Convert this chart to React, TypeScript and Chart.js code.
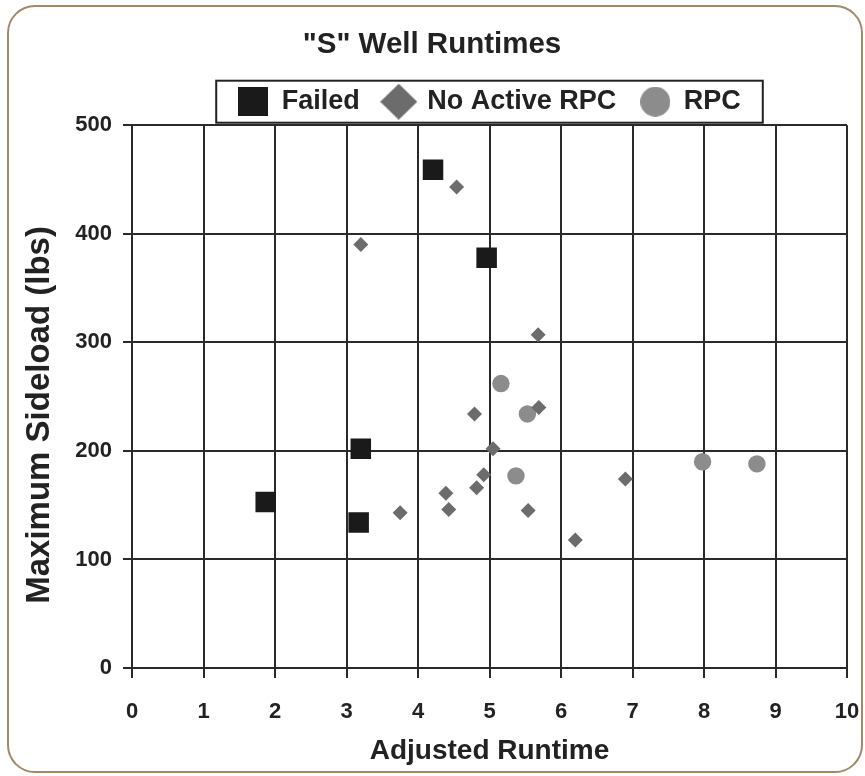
import { useEffect, useRef } from 'react';
import { Chart, registerables } from 'chart.js';

Chart.register(...registerables);

const chartTitle = '"S" Well Runtimes';
const xAxisTitle = 'Adjusted Runtime';
const yAxisTitle = 'Maximum Sideload (lbs)    ';
const seriesNames = ['Failed', 'No Active RPC', 'RPC'];

const failedRuntime = [1.87, 3.17, 3.2, 4.21, 4.96];
const failedSideload = [153, 134, 202, 459, 378];

const noRpcRuntime = [4.54, 3.2, 5.68, 4.79, 5.69, 5.05, 4.92, 4.82, 4.39, 4.43, 3.75, 5.54, 6.2, 6.9];
const noRpcSideload = [443, 390, 307, 234, 240, 202, 178, 166, 161, 146, 143, 145, 118, 174];

const rpcRuntime = [5.16, 5.53, 5.37, 7.98, 8.74];
const rpcSideload = [262, 234, 177, 190, 188];

const xMin = 0;
const xMax = 10;
const xStep = 1;
const yMin = 0;
const yMax = 500;
const yStep = 100;

const FONT = "'Liberation Sans', Arial, Helvetica, sans-serif";
const TEXT = '#222222';
const GRID = '#2a2a2a';
const colors = ['#1a1a1a', '#6c6c6c', '#8c8c8c'];

const toPoints = (xs: number[], ys: number[]) => xs.map((x, i) => ({ x, y: ys[i] }));

function makeMarker(kind: string, color: string): HTMLCanvasElement {
  const c = document.createElement('canvas');
  const ctx = c.getContext('2d')!;
  if (kind === 'square') {
    c.width = 30; c.height = 29;
    ctx.fillStyle = color;
    ctx.fillRect(0, 0, 30, 29);
  } else if (kind === 'diamond') {
    c.width = 37; c.height = 36;
    ctx.fillStyle = color;
    ctx.beginPath();
    ctx.moveTo(18.5, 0);
    ctx.lineTo(37, 18);
    ctx.lineTo(18.5, 36);
    ctx.lineTo(0, 18);
    ctx.closePath();
    ctx.fill();
  } else {
    c.width = 30; c.height = 30;
    ctx.fillStyle = color;
    ctx.beginPath();
    ctx.arc(15, 15, 15, 0, Math.PI * 2);
    ctx.fill();
  }
  return c;
}

const legendBoxPlugin = {
  id: 'legendBox',
  afterDraw(chart: any) {
    const lg = chart.legend;
    if (!lg || !lg.legendHitBoxes || !lg.legendHitBoxes.length) return;
    const hb = lg.legendHitBoxes;
    const first = hb[0];
    const last = hb[hb.length - 1];
    const left = first.left - 22;
    const right = last.left + last.width + 22;
    const cy = first.top + first.height / 2;
    const ctx = chart.ctx;
    ctx.save();
    ctx.strokeStyle = '#222';
    ctx.lineWidth = 2;
    ctx.strokeRect(left, cy - 21, right - left, 42);
    ctx.restore();
  },
};

export default function App() {
  const canvasRef = useRef<HTMLCanvasElement | null>(null);

  useEffect(() => {
    if (!canvasRef.current) return;
    const markers = [
      makeMarker('square', colors[0]),
      makeMarker('diamond', colors[1]),
      makeMarker('circle', colors[2]),
    ];
    const chart = new Chart(canvasRef.current, {
      type: 'scatter',
      data: {
        datasets: [
          {
            label: seriesNames[0],
            data: toPoints(failedRuntime, failedSideload),
            pointStyle: 'rect',
            pointRadius: 14.5,
            backgroundColor: colors[0],
            borderWidth: 0,
          },
          {
            label: seriesNames[1],
            data: toPoints(noRpcRuntime, noRpcSideload),
            pointStyle: 'rectRot',
            pointRadius: 7.5,
            backgroundColor: colors[1],
            borderWidth: 0,
          },
          {
            label: seriesNames[2],
            data: toPoints(rpcRuntime, rpcSideload),
            pointStyle: 'circle',
            pointRadius: 8.7,
            backgroundColor: colors[2],
            borderWidth: 0,
          },
        ],
      },
      options: {
        responsive: false,
        animation: false,
        devicePixelRatio: 1,
        layout: { padding: { left: 17, right: 18, top: 0, bottom: 0 } },
        plugins: {
          tooltip: { enabled: false },
          title: {
            display: true,
            text: chartTitle,
            color: TEXT,
            font: { family: FONT, size: 29.5, weight: 'bold' },
            padding: { top: 27.3, bottom: 1.5 },
          },
          legend: {
            display: true,
            position: 'top',
            fullSize: false,
            labels: {
              usePointStyle: true,
              pointStyleWidth: 30,
              padding: 24,
              color: TEXT,
              font: { family: FONT, size: 27, weight: 'bold' },
              generateLabels: () =>
                seriesNames.map((name, i) => ({
                  text: name,
                  pointStyle: markers[i] as any,
                  fillStyle: colors[i],
                  strokeStyle: colors[i],
                  lineWidth: 0,
                  hidden: false,
                  datasetIndex: i,
                  fontColor: TEXT,
                })),
            },
          },
        },
        scales: {
          x: {
            type: 'linear',
            min: xMin,
            max: xMax,
            afterFit: (scale: any) => {
              scale.height = 108;
              scale.paddingLeft = 0;
              scale.paddingRight = 0;
            },
            ticks: {
              stepSize: xStep,
              color: TEXT,
              padding: 21,
              font: { family: FONT, size: 22, weight: 'bold' },
            },
            grid: { color: GRID, lineWidth: 2, tickLength: 10, tickColor: GRID },
            border: { display: true, color: GRID, width: 2 },
            title: {
              display: true,
              text: xAxisTitle,
              color: TEXT,
              font: { family: FONT, size: 28, weight: 'bold' },
              padding: { top: 0, bottom: 8 },
            },
          },
          y: {
            type: 'linear',
            min: yMin,
            max: yMax,
            afterFit: (scale: any) => { scale.width = 115; },
            ticks: {
              stepSize: yStep,
              color: TEXT,
              padding: 11,
              font: { family: FONT, size: 22, weight: 'bold' },
            },
            grid: { color: GRID, lineWidth: 2, tickLength: 9, tickColor: GRID },
            border: { display: true, color: GRID, width: 2 },
            title: {
              display: true,
              text: yAxisTitle,
              color: TEXT,
              font: { family: FONT, size: 33, weight: 'bold' },
              padding: { top: 3, bottom: 0 },
            },
          },
        },
      },
      plugins: [legendBoxPlugin],
    } as any);
    return () => chart.destroy();
  }, []);

  return (
    <div style={{ position: 'fixed', left: 0, top: 0, width: 865, height: 776, background: '#ffffff' }}>
      <div
        style={{
          position: 'absolute',
          left: 7,
          top: 5,
          width: 856,
          height: 768,
          boxSizing: 'border-box',
          border: '2.5px solid #a08a6a',
          borderRadius: 28,
        }}
      />
      <canvas
        ref={canvasRef}
        width={865}
        height={776}
        style={{ position: 'absolute', left: 0, top: 0, width: 865, height: 776 }}
      />
    </div>
  );
}
